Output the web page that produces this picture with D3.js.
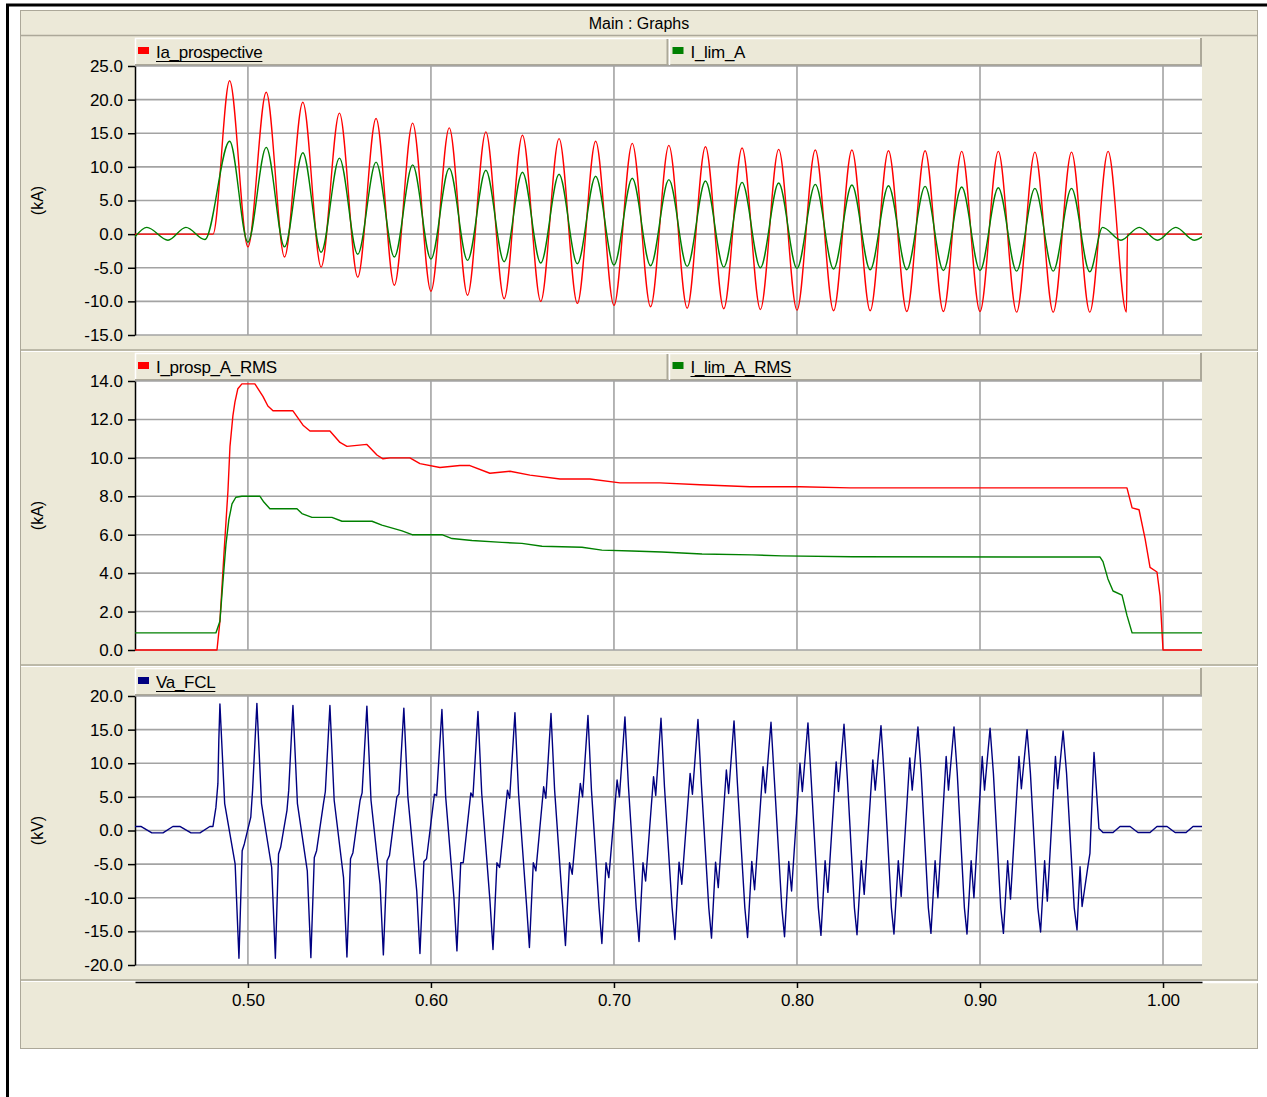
<!DOCTYPE html>
<html>
<head>
<meta charset="utf-8">
<script src="https://cdn.jsdelivr.net/npm/d3@7"></script>
<style>
  body { margin: 0; background: #fff; }
  svg { display: block; font-family: "Liberation Sans", Arial, sans-serif; }
</style>
</head>
<body>
<div id="chart"></div>
<script>
// DATA ######################################################

// time axis (s)
const timeDomain = [0.4383, 1.0213];
const timeTicks = [0.5, 0.6, 0.7, 0.8, 0.9, 1.0];

// y ticks of the three graphs
const iTicks = [-15, -10, -5, 0, 5, 10, 15, 20, 25];
const rmsTicks = [0, 2, 4, 6, 8, 10, 12, 14];
const vTicks = [-20, -15, -10, -5, 0, 5, 10, 15, 20];

// Ia_prospective (kA): turning points
const iaProspT = [0.4383, 0.4809,
  0.49, 0.50, 0.51, 0.52, 0.53, 0.54, 0.55, 0.56, 0.57, 0.58, 0.59, 0.60,
  0.61, 0.62, 0.63, 0.64, 0.65, 0.66, 0.67, 0.68, 0.69, 0.70, 0.71, 0.72,
  0.73, 0.74, 0.75, 0.76, 0.77, 0.78, 0.79, 0.80, 0.81, 0.82, 0.83, 0.84,
  0.85, 0.86, 0.87, 0.88, 0.89, 0.90, 0.91, 0.92, 0.93, 0.94, 0.95, 0.96,
  0.97, 0.98, 0.9806, 1.0213];
const iaProspV = [0, 0,
  22.8, -1.9, 21.1, -3.4, 19.6, -4.9, 18.0, -6.4, 17.2, -7.6, 16.5, -8.5,
  15.8, -9.1, 15.2, -9.6, 14.7, -10.0, 14.2, -10.3, 13.8, -10.6, 13.5, -10.8,
  13.2, -11.0, 13.0, -11.1, 12.8, -11.2, 12.6, -11.3, 12.5, -11.4, 12.5, -11.4,
  12.4, -11.5, 12.4, -11.5, 12.3, -11.5, 12.3, -11.6, 12.2, -11.6, 12.2, -11.6,
  12.3, -11.6, 0, 0];

// I_lim_A (kA)
const iLimT = [0.4383, 0.4448, 0.4563, 0.4661, 0.4765,
  0.49, 0.50, 0.51, 0.52, 0.53, 0.54, 0.55, 0.56, 0.57, 0.58, 0.59, 0.60,
  0.61, 0.62, 0.63, 0.64, 0.65, 0.66, 0.67, 0.68, 0.69, 0.70, 0.71, 0.72,
  0.73, 0.74, 0.75, 0.76, 0.77, 0.78, 0.79, 0.80, 0.81, 0.82, 0.83, 0.84,
  0.85, 0.86, 0.87, 0.88, 0.89, 0.90, 0.91, 0.92, 0.93, 0.94, 0.95, 0.96,
  0.967, 0.977, 0.987, 0.997, 1.007, 1.017, 1.0213];
const iLimV = [-0.4, 1.0, -0.9, 1.0, -0.8,
  13.8, -1.2, 12.9, -1.9, 12.1, -2.7, 11.3, -3.0, 10.7, -3.4, 10.3, -3.7,
  9.8, -3.9, 9.5, -4.1, 9.2, -4.3, 8.9, -4.4, 8.6, -4.6, 8.3, -4.7,
  8.1, -4.8, 7.9, -4.9, 7.7, -5.0, 7.6, -5.1, 7.4, -5.2, 7.3, -5.3,
  7.2, -5.3, 7.1, -5.4, 7.0, -5.4, 6.9, -5.5, 6.8, -5.5, 6.8, -5.6,
  1.0, -0.9, 1.0, -0.9, 1.0, -0.9, -0.4];

// I_prosp_A_RMS (kA)
const rmsProspT = [0.4383, 0.4831, 0.4847, 0.4869, 0.4891, 0.4902, 0.4918, 0.4929,
  0.4945, 0.4967, 0.5038, 0.5082, 0.5109, 0.5137, 0.5246, 0.5301, 0.5339, 0.5448,
  0.5503, 0.5541, 0.5650, 0.5705, 0.5738, 0.5776, 0.5885, 0.5940, 0.6049, 0.6158,
  0.6213, 0.6322, 0.6432, 0.6541, 0.6705, 0.6869, 0.7033, 0.7251, 0.7470, 0.7743,
  0.8016, 0.8290, 0.9803, 0.9831, 0.9869, 0.9902, 0.9929, 0.9967, 0.9984, 1.0000,
  1.0213];
const rmsProspV = [0, 0, 1.5, 5.0, 8.3, 10.6, 12.2, 12.9,
  13.6, 13.85, 13.85, 13.2, 12.7, 12.45, 12.45, 11.7, 11.4, 11.4,
  10.8, 10.6, 10.7, 10.15, 9.95, 10.0, 10.0, 9.7, 9.5, 9.6,
  9.6, 9.2, 9.3, 9.1, 8.9, 8.9, 8.7, 8.7, 8.6, 8.5,
  8.5, 8.44, 8.44, 7.4, 7.3, 5.8, 4.3, 4.06, 2.8, 0,
  0];

// I_lim_A_RMS (kA)
const rmsLimT = [0.4383, 0.4825, 0.4847, 0.4863, 0.4880, 0.4896, 0.4913, 0.4934,
  0.4967, 0.5066, 0.5087, 0.5120, 0.5268, 0.5295, 0.5350, 0.5459, 0.5514, 0.5678,
  0.5732, 0.5842, 0.5897, 0.6060, 0.6115, 0.6224, 0.6388, 0.6497, 0.6607, 0.6825,
  0.6934, 0.7098, 0.7262, 0.7481, 0.7754, 0.7918, 0.8301, 0.9656, 0.9672, 0.9699,
  0.9727, 0.9776, 0.9803, 0.9831, 1.0213];
const rmsLimV = [0.89, 0.89, 1.5, 3.5, 5.5, 6.8, 7.6, 7.95,
  8.0, 8.0, 7.7, 7.35, 7.35, 7.1, 6.9, 6.9, 6.7, 6.7,
  6.5, 6.2, 6.0, 6.0, 5.8, 5.7, 5.6, 5.55, 5.4, 5.35,
  5.2, 5.15, 5.1, 5.0, 4.95, 4.9, 4.85, 4.84, 4.6, 3.7,
  3.07, 2.86, 1.8, 0.89, 0.89];

// Va_FCL (kV): before the fault
const vaPreT = [0.4383, 0.4415, 0.4475, 0.4536, 0.4590, 0.4628, 0.4689, 0.4738,
  0.4792, 0.4809, 0.4825, 0.4836, 0.4841];
const vaPreV = [0.6, 0.6, -0.35, -0.35, 0.6, 0.6, -0.35, -0.35,
  0.6, 0.6, 3.4, 7.0, 13.4];

// Va_FCL during the fault: positive peaks, negative peaks and knees per cycle
const vaPeakT = [0.4847, 0.5049, 0.5246, 0.5448, 0.5650, 0.5852, 0.6060, 0.6257,
  0.6459, 0.6656, 0.6858, 0.7060, 0.7257, 0.7459, 0.7656, 0.7858, 0.8060, 0.8257,
  0.8459, 0.8661, 0.8858, 0.9055, 0.9257, 0.9454, 0.9623];
const vaPeak = [18.8, 18.9, 18.6, 18.6, 18.5, 18.2, 18.0, 17.7,
  17.5, 17.4, 17.1, 16.9, 16.7, 16.5, 16.3, 16.1, 16.0, 15.8,
  15.6, 15.4, 15.4, 15.2, 15.0, 14.8, 11.6];
const vaTroughT = [0.4951, 0.5150, 0.5344, 0.5541, 0.5740, 0.5940, 0.6142, 0.6339,
  0.6538, 0.6735, 0.6934, 0.7137, 0.7333, 0.7533, 0.7730, 0.7932, 0.8131, 0.8328,
  0.8530, 0.8732, 0.8929, 0.9128, 0.9331, 0.9530];
const vaTrough = [-19.0, -19.0, -18.9, -18.8, -18.5, -18.3, -17.9, -17.7,
  -17.4, -17.1, -16.8, -16.5, -16.2, -16.0, -15.9, -15.8, -15.6, -15.5,
  -15.4, -15.3, -15.4, -15.3, -15.1, -14.8];
const vaFallHi = [4, 4, 4, 4.5, 4.5, 5, 5, 5.5, 5.5, 6, 6, 6.5,
  6.5, 7, 7, 7.5, 7.5, 8, 8, 8.5, 8.5, 8.5, 8.5, 8.5];
const vaFallLo = [-5, -5.5, -6, -7, -8, -9, -10, -10.5, -11, -11, -11.5, -11.5,
  -11.5, -11.5, -11.5, -11.5, -11.5, -11.5, -11.5, -11.5, -11.5, -11.5, -11.5, -11.5];
const vaRiseA = [-3, -3.5, -4, -4.2, -4.5, -4.6, -4.8, -4.8, -4.8, -4.8, -4.8, -4.8,
  -4.7, -4.7, -4.6, -4.6, -4.5, -4.5, -4.5, -4.5, -4.5, -4.5, -4.5, -5.4];
const vaRiseB = [-2, -2.5, -3, -3.3, -3.7, -4.2, -4.8, -5.5, -6, -6.5, -7, -7.5,
  -8, -8.5, -8.8, -9, -9.2, -9.5, -9.8, -10, -10, -10.2, -10.5, -11.3];
const vaRiseC = [2, 3, 4, 4.5, 5, 5.4, 5.6, 6, 6.5, 7, 7.5, 8,
  8.5, 9, 9.5, 10, 10.2, 10.5, 10.8, 11, 11, 11, 11, -5];
const vaRiseD = [6, 6, 5.8, 5.6, 5.4, 5.2, 5, 4.8, 4.8, 5, 5, 5.2,
  5.4, 5.5, 5.6, 5.8, 5.8, 6, 6, 6, 6, 6.2, 6.2, -3.4];

// Va_FCL after the fault is cleared
const vaPostT = [0.9650, 0.9672, 0.9727, 0.9765, 0.9820, 0.9863, 0.9929, 0.9967,
  1.0022, 1.0066, 1.0126, 1.0164, 1.0213];
const vaPostV = [0.3, -0.3, -0.3, 0.6, 0.6, -0.3, -0.3, 0.6,
  0.6, -0.3, -0.3, 0.6, 0.6];


// LAYOUT ####################################################
const beige = "#ECE9D8";
const edge = "#ACA899";
const gridColor = "#A3A3A3";
const plotL = 135, plotR = 1202;
const fontSize = "17px";

const svg = d3.select("#chart")
  .append("svg")
  .attr("width", 1267)
  .attr("height", 1097);

// outer frame
svg.append("rect").attr("x", 0).attr("y", 0).attr("width", 1267).attr("height", 1097).attr("fill", "#fff");
svg.append("line").attr("x1", 6).attr("x2", 1267).attr("y1", 5).attr("y2", 5)
  .attr("stroke", "#000").attr("stroke-width", 3);
svg.append("line").attr("x1", 7.5).attr("x2", 7.5).attr("y1", 4).attr("y2", 1097)
  .attr("stroke", "#000").attr("stroke-width", 3);

// beige window
svg.append("rect")
  .attr("x", 20.5).attr("y", 10.5).attr("width", 1237).attr("height", 1038)
  .attr("fill", beige).attr("stroke", edge);

// title bar
svg.append("line").attr("x1", 21).attr("x2", 1258).attr("y1", 35.5).attr("y2", 35.5)
  .attr("stroke", edge).attr("stroke-width", 1.5);
svg.append("text")
  .attr("x", 639).attr("y", 23)
  .attr("text-anchor", "middle")
  .attr("dominant-baseline", "central")
  .style("font-size", "16px")
  .text("Main : Graphs");

const x = d3.scaleLinear().domain(timeDomain).range([plotL, plotR]);

const panels = [
  { top: 66, bottom: 335, legendY: 38, sepY: 350, domain: [-15, 25], ticks: iTicks, unit: "(kA)",
    series: [
      { name: "Ia_prospective", color: "#FF0000", t: iaProspT, v: iaProspV, curve: d3.curveMonotoneX, underline: true },
      { name: "I_lim_A", color: "#008000", t: iLimT, v: iLimV, curve: d3.curveMonotoneX, underline: false }
    ] },
  { top: 381, bottom: 650, legendY: 353, sepY: 665, domain: [0, 14], ticks: rmsTicks, unit: "(kA)",
    series: [
      { name: "I_prosp_A_RMS", color: "#FF0000", t: rmsProspT, v: rmsProspV, curve: d3.curveLinear, underline: false },
      { name: "I_lim_A_RMS", color: "#008000", t: rmsLimT, v: rmsLimV, curve: d3.curveLinear, underline: true }
    ] },
  { top: 696, bottom: 965, legendY: 668, sepY: 980, domain: [-20, 20], ticks: vTicks, unit: "(kV)",
    series: [
      { name: "Va_FCL", color: "#000080", t: null, v: null, curve: d3.curveLinear, underline: true }
    ] }
];

// build the Va_FCL trace from the read peaks and knees
const fallAt = [0.25, 0.8];
const riseAt = [0.18, 0.3, 0.66, 0.76];
const vaPts = vaPreT.map((t, i) => [t, vaPreV[i]]);
vaPeakT.forEach((tp, k) => {
  vaPts.push([tp, vaPeak[k]]);
  if (k >= vaTroughT.length) return;
  const tt = vaTroughT[k];
  const tn = vaPeakT[k + 1];
  vaPts.push([tp + fallAt[0] * (tt - tp), vaFallHi[k]]);
  vaPts.push([tp + fallAt[1] * (tt - tp), vaFallLo[k]]);
  vaPts.push([tt, vaTrough[k]]);
  [vaRiseA, vaRiseB, vaRiseC, vaRiseD].forEach((arr, j) => {
    vaPts.push([tt + riseAt[j] * (tn - tt), arr[k]]);
  });
});
vaPostT.forEach((t, i) => vaPts.push([t, vaPostV[i]]));

// PANELS ####################################################
panels.forEach((p, pi) => {
  const y = d3.scaleLinear().domain(p.domain).range([p.bottom, p.top]);

  // separator under the panel
  svg.append("line").attr("x1", 21).attr("x2", 1258).attr("y1", p.sepY).attr("y2", p.sepY)
    .attr("stroke", edge).attr("stroke-width", 1.5);
  svg.append("line").attr("x1", 21).attr("x2", 1258).attr("y1", p.sepY + 1.5).attr("y2", p.sepY + 1.5)
    .attr("stroke", "#fff").attr("stroke-width", 1);

  // legend bar --------------------------------------------
  const lg = svg.append("g");
  const lh = p.top - p.legendY;
  lg.append("rect")
    .attr("x", plotL).attr("y", p.legendY).attr("width", plotR - plotL).attr("height", lh)
    .attr("fill", beige);
  lg.append("path")
    .attr("d", `M${plotL + 0.5},${p.top}V${p.legendY + 0.5}H${plotR - 1}`)
    .attr("fill", "none").attr("stroke", "#fff").attr("stroke-width", 1.5);
  lg.append("path")
    .attr("d", `M${plotL},${p.top - 1}H${plotR - 1}V${p.legendY}`)
    .attr("fill", "none").attr("stroke", edge).attr("stroke-width", 2);

  const cellW = (plotR - plotL) / 2;
  p.series.forEach((s, si) => {
    const cx = plotL + si * cellW;
    if (si > 0) {
      lg.append("line").attr("x1", cx - 1).attr("x2", cx - 1).attr("y1", p.legendY + 1).attr("y2", p.top - 1)
        .attr("stroke", edge).attr("stroke-width", 2);
      lg.append("line").attr("x1", cx + 1).attr("x2", cx + 1).attr("y1", p.legendY + 1).attr("y2", p.top - 1)
        .attr("stroke", "#fff").attr("stroke-width", 1.5);
    }
    lg.append("rect")
      .attr("x", cx + (si > 0 ? 4 : 3)).attr("y", p.legendY + 9)
      .attr("width", 11).attr("height", 7)
      .attr("fill", s.color);
    const txt = lg.append("text")
      .attr("x", cx + (si > 0 ? 22 : 21)).attr("y", p.legendY + 20)
      .style("font-size", fontSize)
      .style("letter-spacing", "-0.3px")
      .attr("fill", "#000")
      .text(s.name);
    if (s.underline) {
      const w = txt.node().getComputedTextLength();
      lg.append("line")
        .attr("x1", cx + (si > 0 ? 22 : 21)).attr("x2", cx + (si > 0 ? 22 : 21) + w)
        .attr("y1", p.legendY + 23.5).attr("y2", p.legendY + 23.5)
        .attr("stroke", "#000").attr("stroke-width", 1.2);
    }
  });

  // plot area ---------------------------------------------
  svg.append("rect")
    .attr("x", plotL).attr("y", p.top).attr("width", plotR - plotL).attr("height", p.bottom - p.top)
    .attr("fill", "#fff");

  // grid
  svg.append("g").selectAll("line.h")
    .data(p.ticks)
    .join("line")
      .attr("x1", plotL).attr("x2", plotR)
      .attr("y1", d => y(d)).attr("y2", d => y(d))
      .attr("stroke", gridColor).attr("stroke-width", 1.6);
  svg.append("g").selectAll("line.v")
    .data(timeTicks)
    .join("line")
      .attr("x1", d => x(d)).attr("x2", d => x(d))
      .attr("y1", p.top).attr("y2", p.bottom)
      .attr("stroke", gridColor).attr("stroke-width", 1.6);

  // left axis
  svg.append("g")
    .attr("transform", `translate(${plotL},0)`)
    .style("font-size", fontSize)
    .call(d3.axisLeft(y).tickValues(p.ticks).tickSize(7).tickSizeOuter(0).tickPadding(5)
      .tickFormat(d => d.toFixed(1)))
    .call(g => g.selectAll("text").attr("fill", "#000").style("font-family", "Liberation Sans, Arial, sans-serif"))
    .call(g => g.selectAll("line, path").attr("stroke", "#000").attr("stroke-width", 1.5));

  // unit label
  svg.append("text")
    .attr("transform", `translate(37,${(p.top + p.bottom) / 2}) rotate(-90)`)
    .attr("text-anchor", "middle")
    .attr("dominant-baseline", "central")
    .style("font-size", "16px")
    .text(p.unit);

  // traces
  const clipId = `clip${pi}`;
  svg.append("clipPath").attr("id", clipId)
    .append("rect").attr("x", plotL).attr("y", p.top - 2).attr("width", plotR - plotL).attr("height", p.bottom - p.top + 4);

  const traces = svg.append("g").attr("clip-path", `url(#${clipId})`);
  p.series.forEach(s => {
    const pts = s.t ? s.t.map((t, i) => [t, s.v[i]]) : vaPts;
    traces.append("path")
      .datum(pts)
      .attr("fill", "none")
      .attr("stroke", s.color)
      .attr("stroke-width", 1.4)
      .attr("stroke-linejoin", "round")
      .attr("d", d3.line().x(d => x(d[0])).y(d => y(d[1])).curve(s.curve));
  });
});

// TIME AXIS #################################################
svg.append("line").attr("x1", plotR).attr("x2", 1258).attr("y1", 982.5).attr("y2", 982.5)
  .attr("stroke", "#fff").attr("stroke-width", 1.5);
svg.append("g")
  .attr("transform", "translate(0,982)")
  .style("font-size", fontSize)
  .call(d3.axisBottom(x).tickValues(timeTicks).tickSize(6).tickSizeOuter(0).tickPadding(6)
    .tickFormat(d => d.toFixed(2)))
  .call(g => g.selectAll("text").attr("fill", "#000").style("font-family", "Liberation Sans, Arial, sans-serif"))
  .call(g => g.selectAll("line, path").attr("stroke", "#000").attr("stroke-width", 1.5));
</script>
</body>
</html>
